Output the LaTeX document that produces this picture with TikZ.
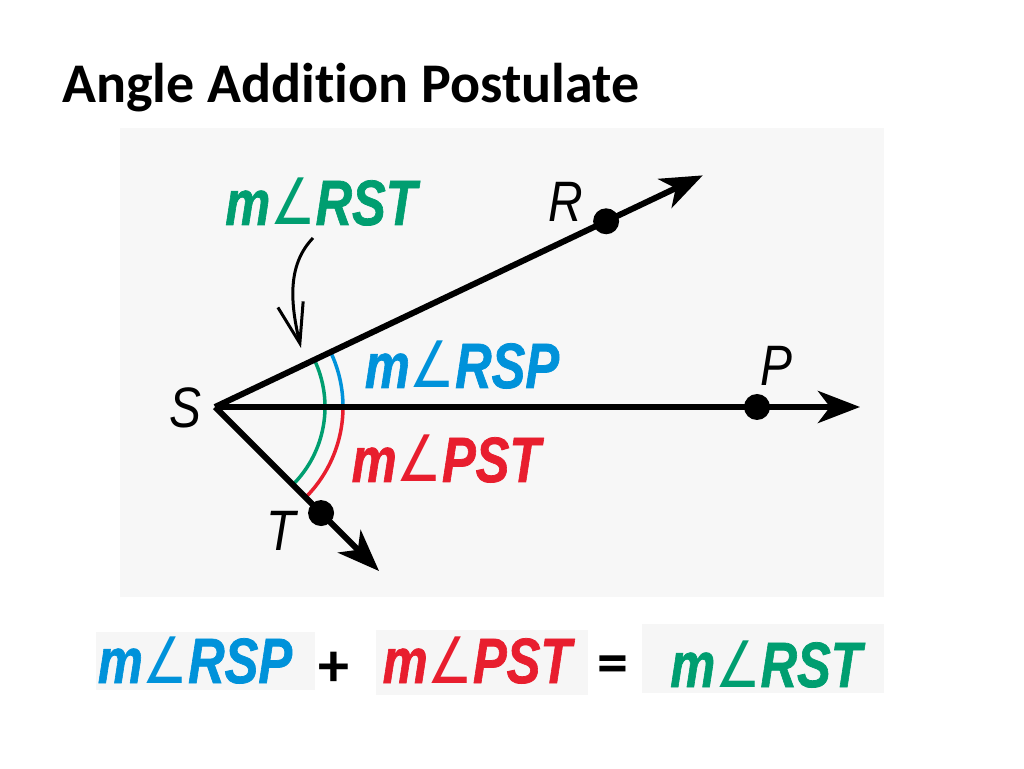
\documentclass[tikz,border=0pt]{standalone}
\usepackage{fontspec}
\setmainfont{Liberation Sans}
\newfontfamily\labfont{Liberation Sans}[BoldItalicFeatures={FakeBold=1.2}]
\newfontfamily\titlefont{Carlito}[Ligatures=NoCommon]
\newfontfamily\symfont{DejaVu Sans}
\usetikzlibrary{arrows.meta,calc}
\definecolor{cgreen}{RGB}{0,158,112}
\definecolor{cblue}{RGB}{0,146,218}
\definecolor{cred}{RGB}{232,30,46}
\definecolor{panel}{RGB}{247,247,247}
\definecolor{boxbg}{RGB}{246,246,246}
\newcommand{\angsym}{{\symfont\mdseries\upshape ∠}}
\newcommand{\mlab}[1]{\scalebox{0.79}[1]{\labfont\bfseries\itshape m\angsym#1}}
\newcommand{\ptlab}[1]{\scalebox{0.84}[1]{\itshape #1}}
\tikzset{
  ray/.style={line width=6pt, -{Stealth[length=42pt,width=32pt,inset=12pt]}},
  dotnode/.style={circle, fill=black, inner sep=0pt, minimum size=26pt},
  arcline/.style={line width=3.5pt},
  anglab/.style={font=\fontsize{64}{68}\selectfont, inner sep=0pt, anchor=base},
  ptname/.style={font=\fontsize{57}{60}\selectfont, inner sep=0pt},
  opsign/.style={font=\titlefont\bfseries\fontsize{62}{66}\selectfont, inner sep=0pt},
  pointer/.style={line width=3pt, -{Straight Barb[length=40pt,width=26pt,line width=3pt]}}
}
\begin{document}
\begin{tikzpicture}[x=1pt,y=1pt]
\useasboundingbox (0,0) rectangle (1024,768);
\fill[white] (0,0) rectangle (1024,768);
% panel
\fill[panel] (120,171) rectangle (884,640);
% bottom boxes
\fill[boxbg] (96,78) rectangle (315,136);
\fill[boxbg] (376,73) rectangle (588,138);
\fill[boxbg] (642,75) rectangle (884,144);
% title
\node[font=\titlefont\bfseries\fontsize{56}{60}\selectfont, anchor=base west, inner sep=0pt] (title) at (62,665) {Angle Addition Postulate};
% geometry
\coordinate (S) at (215,361);
\coordinate (Rtip) at ($(S)+(25.4:540)$);
\coordinate (Ptip) at (860,361);
\coordinate (Ttip) at ($(S)+(-45:232)$);
% arcs
\draw[arcline, cgreen] ($(S)+(-45:110)$) arc[start angle=-45, end angle=25.4, radius=110];
\draw[arcline, cblue] ($(S)+(0:128)$) arc[start angle=0, end angle=25.4, radius=128];
\draw[arcline, cred] ($(S)+(-45:128)$) arc[start angle=-45, end angle=0, radius=128];
% rays
\draw[ray] (S) -- (Rtip);
\draw[ray] (S) -- (Ptip);
\draw[ray] (S) -- (Ttip);
% dots
\node[dotnode] (R) at ($(S)+(25.4:433)$) {};
\node[dotnode] (P) at (757,361) {};
\node[dotnode] (T) at ($(S)+(-45:150)$) {};
% point labels
\node[ptname] (Slab) at (185,360) {\ptlab{S}};
\node[ptname] (Rlab) at (566,566) {\ptlab{R}};
\node[ptname] (Plab) at (776,402) {\ptlab{P}};
\node[ptname] (Tlab) at (281,237) {\ptlab{T}};
% angle labels
\node[anglab, text=cgreen] (rst) at (321,543) {\mlab{RST}};
\node[anglab, text=cblue] (rsp) at (462,380) {\mlab{RSP}};
\node[anglab, text=cred] (pst) at (446,286) {\mlab{PST}};
% pointer
\coordinate (pstart) at (313,530);
\coordinate (pend) at (301,420);
\draw[pointer] (pstart) .. controls (289,505) and (289,470) .. (pend);
% equation
\node[anglab, text=cblue] (eq1) at (195,85) {\mlab{RSP}};
\node[opsign] (plus) at (334,99) {+};
\node[anglab, text=cred] (eq2) at (477,85) {\mlab{PST}};
\node[opsign] (equals) at (613,98) {=};
\node[anglab, text=cgreen] (eq3) at (766,81) {\mlab{RST}};
\end{tikzpicture}
\end{document}
